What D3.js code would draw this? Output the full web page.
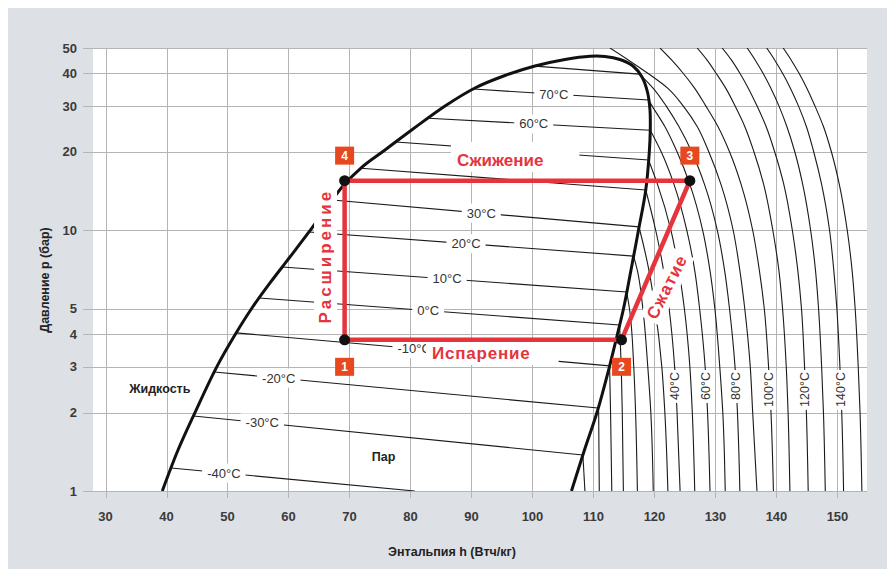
<!DOCTYPE html>
<html>
<head>
<meta charset="utf-8">
<script src="https://cdn.jsdelivr.net/npm/d3@7"></script>
<style>
  html, body { margin: 0; padding: 0; background: #ffffff; }
  svg { display: block; }
</style>
</head>
<body>
<svg id="chart" width="887" height="569"></svg>
<script>
// ---- axis ticks ----
const hTicks = [30, 40, 50, 60, 70, 80, 90, 100, 110, 120, 130, 140, 150];
const pTicks = [1, 2, 3, 4, 5, 10, 20, 30, 40, 50];

// ---- saturation dome (h in Втч/кг, p in бар), liquid branch -> top -> vapour branch ----
const domeH = [39.31, 41.89, 44.67, 48.26, 51.31, 53.93, 56.97, 60.25, 63.36, 66.15, 68.93, 72.05,
               75.82, 80.41, 85.66, 90.57, 95.49, 100.41, 105.33, 109.43, 111.89, 114.34, 116.48,
               117.95, 118.85, 119.26, 119.31, 119.15, 118.57, 117.38, 116.15, 114.92, 113.93,
               112.62, 110.57, 108.52, 106.39];
const domeP = [1.0, 1.436, 2.0, 3.0, 4.0, 5.0, 6.28, 7.90, 9.85, 12.12, 14.78, 17.48,
               20.32, 24.45, 29.96, 35.13, 39.23, 42.65, 45.17, 46.47, 46.39, 45.17, 42.65,
               38.71, 33.90, 28.93, 24.24, 19.95, 14.27, 10.02, 7.04, 5.0, 4.0,
               3.0, 2.0, 1.436, 1.0];

// ---- isotherms across the two-phase region ----
const wetT    = [-40, -30, -20, -10, 0, 10, 20, 30, 40, 50, 60, 70, 80];
const wetLiqH = [40.75, 44.41, 47.83, 51.41, 55.2, 58.98, 63.36, 67.2, 71.89, 77.57, 82.92, 90.3, 100.41];
const wetLiqP = [1.225, 1.94, 2.86, 4.04, 5.5, 7.23, 9.85, 13.06, 17.3, 21.8, 26.9, 34.8, 42.6];
const wetVapH = [80.7, 108.26, 110.77, 112.64, 114.28, 115.44, 116.57, 117.46, 118.57, 119.03, 119.31, 119.03, 117.54];
const wetVapP = [1.0, 1.375, 2.08, 3.02, 4.33, 5.8, 7.96, 10.3, 14.27, 18.6, 24.2, 31.6, 39.7];

// labelled two-phase isotherms and the enthalpy at the centre of each label
const wetLabelT = [-40, -30, -20, -10, 0, 10, 20, 30, 60, 70];
const wetLabelH = [49.4, 55.7, 58.4, 80.6, 82.9, 86.0, 89.1, 91.6, 100.2, 103.5];

// ---- superheated-vapour isotherms: enthalpy at each pressure level (null = inside the dome) ----
const gasP = [50, 45, 40, 35, 30, 25, 20, 15, 10, 7, 5, 3, 2, 1];
const gasT = [-30, -20, -10, 0, 10, 20, 30, 40, 50, 60, 70, 80, 90, 100, 110, 120, 130, 140, 150];
const gasH = [
  [null, null, null, null, null, null, null, null, null, null, null, null, null, 108.6],
  [null, null, null, null, null, null, null, null, null, null, null, null, 110.85, 110.95],
  [null, null, null, null, null, null, null, null, null, null, null, null, 112.8, 113.0],
  [null, null, null, null, null, null, null, null, null, null, null, 114.55, 114.72, 114.9],
  [null, null, null, null, null, null, null, null, null, null, 115.9, 116.6, 116.9, 117.2],
  [null, null, null, null, null, null, null, null, null, 117.2, 118.1, 118.9, 119.4, 119.8],
  [null, null, null, null, null, null, null, null, 117.6, 119.1, 120.1, 121.2, 121.7, 122.2],
  [null, null, null, null, null, null, null, null, 120.2, 121.5, 122.4, 123.3, 123.7, 124.2],
  [null, null, null, null, null, null, null, 120.5, 122.7, 124.0, 124.9, 125.8, 126.2, 126.6],
  [null, null, null, null, null, null, 121.1, 123.2, 125.3, 126.6, 127.4, 128.3, 128.7, 129.1],
  [null, null, null, null, 119.6, 121.7, 123.7, 125.8, 127.9, 129.1, 129.9, 130.7, 131.2, 131.6],
  [null, null, null, 119.8, 121.9, 124.0, 126.1, 128.2, 130.3, 131.5, 132.3, 133.2, 133.6, 134.0],
  [112.7, 115.7, 118.9, 122.2, 124.7, 127.0, 128.9, 130.9, 132.9, 134.0, 134.8, 135.7, 136.1, 136.8],
  [120.9, 122.8, 124.7, 126.6, 128.4, 130.4, 132.3, 134.2, 136.1, 137.2, 138.0, 138.7, 139.1, 139.5],
  [127.0, 128.6, 130.1, 131.7, 133.2, 134.8, 136.3, 137.9, 139.4, 140.4, 141.0, 141.6, 141.9, 142.2],
  [131.1, 132.6, 134.0, 135.4, 136.8, 138.3, 139.7, 141.2, 142.6, 143.5, 144.1, 144.6, 144.9, 145.2],
  [135.2, 136.5, 137.8, 139.1, 140.4, 141.7, 143.0, 144.3, 145.6, 146.4, 146.9, 147.4, 147.7, 148.0],
  [138.4, 139.7, 141.0, 142.3, 143.6, 144.9, 146.1, 147.4, 148.7, 149.4, 149.9, 150.4, 150.7, 151.0],
  [141.1, 142.4, 143.7, 145.0, 146.3, 147.7, 149.0, 150.3, 151.6, 152.4, 152.9, 153.4, 153.7, 154.0]
];
const gasLabelT = [40, 60, 80, 100, 120, 140];

// ---- refrigeration cycle: state points 1..4 ----
const cycleId = ["1", "2", "3", "4"];
const cycleH  = [69.2, 114.6, 125.8, 69.2];
const cycleP  = [3.8, 3.8, 15.5, 15.5];

// ---- process and region labels ----
const processText = ["Сжижение", "Испарение", "Расширение", "Сжатие"];
const processH    = [94.7, 91.6, 66.0, 122.0];
const processP    = [18.6, 3.38, 7.96, 6.07];
const processRot  = [0, 0, -90, -63];

const regionText = ["Жидкость", "Пар"];
const regionH    = [38.9, 75.6];
const regionP    = [2.48, 1.35];

// ================= drawing =================
const svg = d3.select("#chart");
const W = 887, H = 569;
const plot = { left: 93, right: 867, top: 48, bottom: 491 };

const RED = "#e5343c";
const BADGE = "#e8481f";
const INK = "#1a1a1a";
const TXT = "#3a3a3a";

const x = d3.scaleLinear().domain([27.95, 154.84]).range([plot.left, plot.right]);
const y = d3.scaleLog().domain([1, 50]).range([plot.bottom, plot.top]);

// panel background
svg.append("rect").attr("x", 8).attr("y", 8).attr("width", W - 8).attr("height", H - 8)
  .attr("fill", "#dde0e5");
svg.append("rect").attr("x", plot.left).attr("y", plot.top)
  .attr("width", plot.right - plot.left).attr("height", plot.bottom - plot.top)
  .attr("fill", "#ffffff");

svg.append("defs").append("clipPath").attr("id", "plotClip")
  .append("rect").attr("x", plot.left).attr("y", plot.top)
  .attr("width", plot.right - plot.left).attr("height", plot.bottom - plot.top);

// grid lines with short outside ticks
const grid = svg.append("g").attr("stroke", "#b4b4b4").attr("stroke-width", 1);
grid.selectAll("line.v").data(hTicks).join("line").attr("class", "v")
  .attr("x1", d => Math.round(x(d)) + 0.5).attr("x2", d => Math.round(x(d)) + 0.5)
  .attr("y1", plot.top).attr("y2", plot.bottom + 7);
grid.selectAll("line.h").data(pTicks).join("line").attr("class", "h")
  .attr("x1", plot.left - 10).attr("x2", plot.right)
  .attr("y1", d => Math.round(y(d)) + 0.5).attr("y2", d => Math.round(y(d)) + 0.5);

// tick labels
const tickFont = "'Liberation Sans', Arial, sans-serif";
svg.append("g").selectAll("text").data(pTicks).join("text")
  .attr("x", 77).attr("y", d => y(d)).attr("dy", "0.36em")
  .attr("text-anchor", "end").attr("font-family", tickFont).attr("font-weight", "bold")
  .attr("font-size", 13).attr("fill", TXT).text(d => d);
svg.append("g").selectAll("text").data(hTicks).join("text")
  .attr("x", d => x(d)).attr("y", 516).attr("dy", "0.36em")
  .attr("text-anchor", "middle").attr("font-family", tickFont).attr("font-weight", "bold")
  .attr("font-size", 13).attr("fill", TXT).text(d => d);

// axis titles
svg.append("text").attr("transform", "translate(44,280) rotate(-90)")
  .attr("text-anchor", "middle").attr("dy", "0.36em")
  .attr("font-family", tickFont).attr("font-weight", "bold").attr("font-size", 12.5)
  .attr("fill", "#222").text("Давление p (бар)");
svg.append("text").attr("x", 452).attr("y", 551).attr("dy", "0.36em")
  .attr("text-anchor", "middle")
  .attr("font-family", tickFont).attr("font-weight", "bold").attr("font-size", 12.5)
  .attr("fill", "#222").text("Энтальпия h (Втч/кг)");

const clipped = svg.append("g").attr("clip-path", "url(#plotClip)");

// two-phase isotherms
const wetIdx = d3.range(wetT.length);
clipped.append("g").selectAll("line").data(wetIdx).join("line")
  .attr("x1", i => x(wetLiqH[i])).attr("y1", i => y(wetLiqP[i]))
  .attr("x2", i => x(wetVapH[i])).attr("y2", i => y(wetVapP[i]))
  .attr("stroke", INK).attr("stroke-width", 1.1);

// superheated isotherms
const gasLine = d3.line().x(d => x(d[0])).y(d => y(d[1])).curve(d3.curveMonotoneY);
const gasPoints = gasT.map((t, k) => {
  const pts = [];
  const w = wetT.indexOf(t);
  if (w >= 0) pts.push([wetVapH[w], wetVapP[w]]);
  gasH[k].forEach((h, j) => { if (h !== null) pts.push([h, gasP[j]]); });
  return pts;
});
clipped.append("g").selectAll("path").data(gasPoints).join("path")
  .attr("d", gasLine).attr("fill", "none").attr("stroke", INK).attr("stroke-width", 1.1);

// text with a white gap behind it
const labelFont = "'Liberation Sans', Arial, sans-serif";
function addBoxedText(parent, txt, opts) {
  const g = parent.append("g").attr("transform", opts.transform);
  const r = g.append("rect").attr("fill", "#fff");
  const t = g.append("text").attr("text-anchor", opts.anchor || "middle").attr("dy", "0.35em")
    .attr("font-family", opts.font).attr("font-size", opts.size)
    .attr("font-weight", opts.weight || "normal").attr("fill", opts.color)
    .attr("letter-spacing", opts.spacing || 0).text(txt);
  const b = t.node().getBBox();
  const p = opts.pad || [4, 4, 1, 1]; // left, right, top, bottom
  r.attr("x", b.x - p[0]).attr("y", b.y - p[2])
   .attr("width", b.width + p[0] + p[1]).attr("height", b.height + p[2] + p[3]);
  return g;
}

// labels on the two-phase isotherms
const wetLabels = svg.append("g");
wetLabelT.forEach((t, k) => {
  const i = wetT.indexOf(t);
  const x1 = x(wetLiqH[i]), y1 = y(wetLiqP[i]), x2 = x(wetVapH[i]), y2 = y(wetVapP[i]);
  const cx = x(wetLabelH[k]);
  const cy = y1 + (cx - x1) / (x2 - x1) * (y2 - y1);
  addBoxedText(wetLabels, `${t}°C`, {
    transform: `translate(${cx},${cy})`, font: labelFont, size: 13, color: "#333",
    pad: [5, 5, 2, 2]
  });
});

// vertical labels on superheated isotherms
const gasLabelP = 2.86;
gasLabelT.forEach(t => {
  const pts = gasPoints[gasT.indexOf(t)];
  const yy = y(gasLabelP);
  let xx = x(pts[pts.length - 1][0]);
  for (let j = 0; j < pts.length - 1; j++) {
    const ya = y(pts[j][1]), yb = y(pts[j + 1][1]);
    if (yy >= ya && yy <= yb) {
      xx = x(pts[j][0]) + (yy - ya) / (yb - ya) * (x(pts[j + 1][0]) - x(pts[j][0]));
    }
  }
  addBoxedText(wetLabels, `${t}°C`, {
    transform: `translate(${xx},${yy}) rotate(-90)`, anchor: "end", font: labelFont,
    size: 12.5, color: "#333", pad: [3, 2, 0, 0]
  });
});

// saturation dome
const domeLine = d3.line().x(d => x(d[0])).y(d => y(d[1])).curve(d3.curveCatmullRom.alpha(0.5));
clipped.append("path").datum(domeH.map((h, i) => [h, domeP[i]]))
  .attr("d", domeLine).attr("fill", "none").attr("stroke", "#111")
  .attr("stroke-width", 3).attr("stroke-linejoin", "round");

// region names
svg.append("g").selectAll("text").data(regionText).join("text")
  .attr("x", (d, i) => x(regionH[i])).attr("y", (d, i) => y(regionP[i])).attr("dy", "0.35em")
  .attr("text-anchor", "middle").attr("font-family", tickFont).attr("font-weight", "bold")
  .attr("font-size", 12.5).attr("fill", "#222").text(d => d);

// process names
const procLayer = svg.append("g");
const procPad = [[6, 36, 9, 2], [6, 28, 2, 2], [3, 3, 2, 2], [3, 3, 2, 2]];
const procSpacing = [0, 0.8, 3, 1.2];
processText.forEach((txt, i) => {
  addBoxedText(procLayer, txt, {
    transform: `translate(${x(processH[i])},${y(processP[i])}) rotate(${processRot[i]})`,
    font: tickFont, size: 17, weight: "bold", color: RED, pad: procPad[i], spacing: procSpacing[i]
  });
});

// cycle path 1 -> 2 -> 3 -> 4 -> 1
const cyclePts = cycleH.map((h, i) => [x(h), y(cycleP[i])]);
svg.append("path")
  .attr("d", d3.line()(cyclePts.concat([cyclePts[0]])))
  .attr("fill", "none").attr("stroke", RED).attr("stroke-width", 4.5)
  .attr("stroke-linejoin", "miter");

// state points
svg.append("g").selectAll("circle").data(cyclePts).join("circle")
  .attr("cx", d => d[0]).attr("cy", d => d[1]).attr("r", 5.5).attr("fill", "#111");

// numbered badges: below the low-pressure points, above the high-pressure ones
const badges = svg.append("g");
cyclePts.forEach((d, i) => {
  const by = d[1] + (cycleP[i] < 10 ? 27 : -25);
  const g = badges.append("g").attr("transform", `translate(${d[0]},${by})`);
  g.append("rect").attr("x", -9.5).attr("y", -9).attr("width", 19).attr("height", 18).attr("fill", BADGE);
  g.append("text").attr("text-anchor", "middle").attr("dy", "0.36em")
    .attr("font-family", tickFont).attr("font-weight", "bold").attr("font-size", 12)
    .attr("fill", "#fff").text(cycleId[i]);
});
</script>
</body>
</html>
